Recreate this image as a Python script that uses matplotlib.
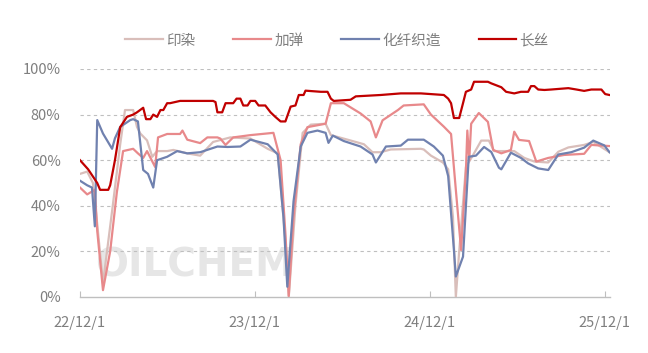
import numpy as np
import pandas as pd
import matplotlib
matplotlib.use("Agg")
import matplotlib.pyplot as plt
import matplotlib.dates as mdates

plt.rcParams['font.family'] = ['Noto Sans CJK SC', 'DejaVu Sans']

# 印染
yr_dates = ["2022-12-01", "2022-12-16", "2022-12-28", "2023-01-06", "2023-01-18", "2023-02-08",
            "2023-02-23", "2023-03-05", "2023-03-22", "2023-03-30", "2023-04-06", "2023-04-20",
            "2023-05-01", "2023-05-11", "2023-06-01", "2023-06-14", "2023-07-13", "2023-08-09",
            "2023-09-05", "2023-10-11", "2023-11-22", "2023-12-28", "2024-01-18", "2024-02-03",
            "2024-02-10", "2024-02-24", "2024-03-10", "2024-03-27", "2024-04-27", "2024-05-08",
            "2024-06-12", "2024-07-16", "2024-08-03", "2024-08-20", "2024-09-10", "2024-11-12",
            "2024-11-18", "2024-12-03", "2024-12-28", "2025-01-08", "2025-01-18", "2025-01-24",
            "2025-01-31", "2025-02-14", "2025-03-03", "2025-03-18", "2025-04-03", "2025-04-14",
            "2025-05-26", "2025-06-16", "2025-07-07", "2025-08-05", "2025-08-26", "2025-09-16",
            "2025-10-19", "2025-11-07", "2025-12-11"]
yr_vals = [54, 55, 50, 32, 6, 41,
           67, 82, 82, 74.6, 71.7, 68.7,
           61.5, 64, 64, 64.5, 63, 62,
           68, 70, 69.5, 65, 63, 25,
           0, 40, 72, 75.6, 76, 71,
           69, 67, 63.5, 63.5, 64.7, 65,
           64.7, 62, 59, 56, 35, 0,
           20, 57, 63, 68.6, 68.6, 64,
           64, 61, 59.4, 59, 63.7, 65.6,
           66.7, 68, 63.5]

# 加弹
jt_dates = ["2022-12-01", "2022-12-16", "2023-01-01", "2023-01-06", "2023-01-18", "2023-02-02",
            "2023-02-16", "2023-03-01", "2023-03-22", "2023-04-01", "2023-04-12", "2023-04-20",
            "2023-05-07", "2023-05-13", "2023-06-01", "2023-06-28", "2023-07-03", "2023-07-13",
            "2023-08-09", "2023-08-24", "2023-09-14", "2023-09-20", "2023-10-01", "2023-10-17",
            "2023-11-22", "2024-01-09", "2024-01-24", "2024-02-03", "2024-02-10", "2024-02-20",
            "2024-03-06", "2024-03-20", "2024-04-27", "2024-05-08", "2024-06-04", "2024-07-09",
            "2024-07-30", "2024-08-10", "2024-08-24", "2024-09-25", "2024-10-07", "2024-11-18",
            "2024-12-03", "2024-12-30", "2025-01-14", "2025-01-24", "2025-02-04", "2025-02-14",
            "2025-02-17", "2025-02-21", "2025-02-25", "2025-03-13", "2025-04-01", "2025-04-12",
            "2025-04-29", "2025-05-19", "2025-05-26", "2025-06-05", "2025-06-26", "2025-07-11",
            "2025-08-05", "2025-09-07", "2025-10-19", "2025-11-03", "2025-12-11"]
jt_vals = [48, 45, 47, 29, 3, 20,
           46, 64, 65, 63, 61, 64,
           57, 70, 71.5, 71.5, 73, 69,
           67.5, 70, 70, 69.5, 66.7, 70,
           71, 72, 60, 28, 0.5, 35,
           67, 74.5, 76, 85, 85, 80.5,
           77, 70, 77.5, 82, 84, 84.5,
           80, 74.7, 71.5, 47, 20.6, 55,
           73, 60, 76, 80.7, 76.8, 64.5,
           63, 64.5, 72.5, 68.9, 68.4, 59.4,
           61, 62.3, 62.8, 66.7, 66.2]

# 化纤织造
hx_dates = ["2022-12-01", "2022-12-16", "2022-12-26", "2023-01-01", "2023-01-06", "2023-01-18",
            "2023-02-06", "2023-02-12", "2023-02-23", "2023-03-16", "2023-03-22", "2023-04-01",
            "2023-04-12", "2023-04-22", "2023-05-03", "2023-05-11", "2023-06-01", "2023-06-22",
            "2023-07-13", "2023-08-09", "2023-09-14", "2023-10-05", "2023-11-01", "2023-11-22",
            "2023-12-28", "2024-01-18", "2024-01-30", "2024-02-07", "2024-02-20", "2024-03-06",
            "2024-03-20", "2024-04-10", "2024-04-27", "2024-05-03", "2024-05-12", "2024-06-04",
            "2024-07-09", "2024-08-03", "2024-08-10", "2024-08-31", "2024-10-01", "2024-10-16",
            "2024-11-18", "2024-12-09", "2024-12-28", "2025-01-08", "2025-01-20", "2025-01-24",
            "2025-02-08", "2025-02-20", "2025-03-07", "2025-03-24", "2025-04-08", "2025-04-24",
            "2025-04-29", "2025-05-19", "2025-06-09", "2025-06-24", "2025-07-15", "2025-08-05",
            "2025-08-26", "2025-09-22", "2025-10-19", "2025-11-07", "2025-11-30", "2025-12-11"]
hx_vals = [51, 49, 48, 31, 77.6, 71.7,
           65, 69.6, 74.6, 77.6, 78, 77,
           55.7, 54, 48, 60, 61.5, 64,
           63, 63.5, 66, 65.8, 66, 69,
           67, 62.5, 35, 4.5, 42, 66,
           72, 73, 72, 67.6, 70.8, 68.4,
           66, 62.5, 59, 66, 66.4, 69,
           69, 66, 62, 53, 20.6, 9,
           17.7, 61.5, 62, 65.8, 63.6, 56.7,
           56, 63.3, 61, 58.6, 56.4, 55.7,
           62.5, 63.5, 65.5, 68.6, 66.5, 63.5]

# 长丝
cs_dates = ["2022-12-01", "2022-12-18", "2023-01-06", "2023-01-12", "2023-01-29", "2023-02-02",
            "2023-02-12", "2023-02-23", "2023-03-09", "2023-03-22", "2023-03-30", "2023-04-12",
            "2023-04-18", "2023-04-27", "2023-05-03", "2023-05-11", "2023-05-18", "2023-05-24",
            "2023-06-01", "2023-06-07", "2023-06-28", "2023-08-09", "2023-09-05", "2023-09-10",
            "2023-09-14", "2023-09-24", "2023-10-01", "2023-10-17", "2023-10-24", "2023-11-01",
            "2023-11-07", "2023-11-16", "2023-11-22", "2023-12-02", "2023-12-09", "2023-12-23",
            "2024-01-03", "2024-01-13", "2024-01-24", "2024-02-03", "2024-02-14", "2024-02-24",
            "2024-03-02", "2024-03-12", "2024-03-16", "2024-04-17", "2024-05-01", "2024-05-08",
            "2024-05-14", "2024-06-18", "2024-06-29", "2024-08-20", "2024-10-01", "2024-11-12",
            "2024-12-30", "2025-01-08", "2025-01-14", "2025-01-20", "2025-01-31", "2025-02-08",
            "2025-02-14", "2025-02-25", "2025-03-03", "2025-04-01", "2025-04-08", "2025-04-29",
            "2025-05-09", "2025-05-26", "2025-06-09", "2025-06-24", "2025-06-30", "2025-07-07",
            "2025-07-15", "2025-07-28", "2025-08-11", "2025-09-16", "2025-10-03", "2025-10-19",
            "2025-11-03", "2025-11-24", "2025-12-02", "2025-12-11"]
cs_vals = [60, 56, 50, 47, 47, 49,
           60, 74.5, 79, 80, 81, 83,
           78, 78, 80, 79, 82, 82,
           85, 85, 86, 86, 86, 85.5,
           81, 81, 85, 85, 87, 87,
           84, 84, 86, 86, 84, 84,
           81, 79, 77, 77, 83.5, 84,
           88.6, 88.6, 90.5, 90, 90, 87,
           86, 86.5, 88, 88.6, 89.3, 89.3,
           88.6, 87, 85, 78.5, 78.5, 85,
           90, 91, 94.4, 94.4, 93.7, 92,
           90, 89.3, 90, 90, 92.5, 92.5,
           91, 90.8, 91, 91.6, 91, 90.4,
           91, 91, 89, 88.6]

series = [("印染", yr_dates, yr_vals, "#D9BEBA"),
          ("加弹", jt_dates, jt_vals, "#E8898B"),
          ("化纤织造", hx_dates, hx_vals, "#7081AF"),
          ("长丝", cs_dates, cs_vals, "#C00000")]

fig = plt.figure(figsize=(6.48, 3.53), dpi=100)
ax = fig.add_axes([80 / 648, 1 - 297 / 353, 530 / 648, 228 / 353])

# watermark
ax.text(0.028, 0.055, "OILCHEM", transform=ax.transAxes, fontsize=28, fontweight='bold',
        color='#E6E6E6', family='DejaVu Sans', ha='left', va='bottom', zorder=0)

for name, d, v, c in series:
    ax.plot(pd.to_datetime(d), v, color=c, lw=1.6, label=name, zorder=3)

ax.set_ylim(0, 100)
ax.set_xlim(pd.Timestamp("2022-12-01"), pd.Timestamp("2025-12-12"))
ax.set_yticks([0, 20, 40, 60, 80, 100])
ax.set_yticklabels([f"{t}%" for t in [0, 20, 40, 60, 80, 100]])
ticks = pd.to_datetime(["2022-12-01", "2023-12-01", "2024-12-01", "2025-12-01"])
ax.set_xticks(ticks)
ax.set_xticklabels(["22/12/1", "23/12/1", "24/12/1", "25/12/1"])

for y in [20, 40, 60, 80, 100]:
    ax.axhline(y, color='#BFBFBF', lw=0.8, ls=(0, (3, 3)), zorder=1)

for s in ['top', 'right', 'left']:
    ax.spines[s].set_visible(False)
ax.spines['bottom'].set_color('#BFBFBF')
ax.spines['bottom'].set_linewidth(1.0)
ax.tick_params(axis='y', length=0, labelsize=10.5, labelcolor='#7F7F7F', pad=14)
ax.tick_params(axis='x', direction='in', length=4, color='#BFBFBF', labelsize=10.5,
               labelcolor='#7F7F7F', pad=14)

fig.legend(loc='center', bbox_to_anchor=(0.52, 0.885), ncol=4, frameon=False,
           fontsize=10.5, handlelength=2.6, columnspacing=2.6, handletextpad=0.2,
           labelcolor='#7F7F7F')

fig.savefig("out.png", dpi=100)
